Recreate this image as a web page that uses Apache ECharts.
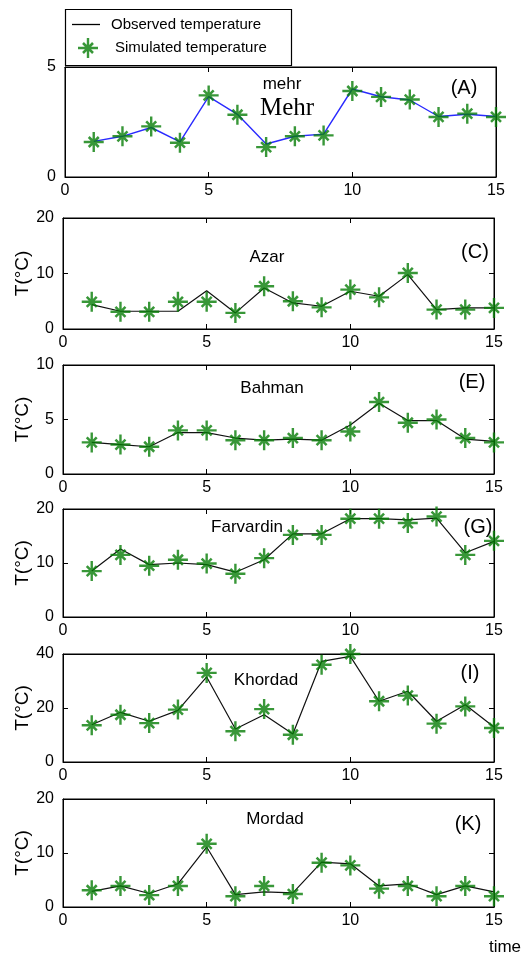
<!DOCTYPE html>
<html><head><meta charset="utf-8">
<script src="https://cdn.jsdelivr.net/npm/echarts@6/dist/echarts.min.js"></script>
<style>html,body{margin:0;padding:0;background:#fff}#c{width:524px;height:965px}</style>
</head><body><div id="c"></div>
<script>
const time = [1,2,3,4,5,6,7,8,9,10,11,12,13,14,15];
const mehrObs = [1.62,1.85,2.25,1.6,3.65,2.85,1.5,1.85,1.95,4.0,3.65,3.5,2.75,2.85,2.75];
const mehrSim = [1.59,1.85,2.30,1.56,3.71,2.83,1.36,1.85,1.89,3.91,3.64,3.52,2.73,2.88,2.73];
const azarObs = [4.4,3.2,3.2,3.2,6.9,2.9,7.4,4.7,4.1,6.8,5.9,9.8,3.5,3.8,3.8];
const azarSim = [4.9,3.1,3.1,4.9,4.9,2.9,7.7,5.0,3.9,7.1,5.7,10.1,3.5,3.5,3.8];
const bahmanObs = [2.9,2.7,2.5,3.8,3.8,3.3,3.1,3.2,3.1,4.5,6.5,4.9,4.9,3.2,3.0];
const bahmanSim = [2.9,2.7,2.5,4.0,4.0,3.1,3.1,3.3,3.1,3.9,6.6,4.7,5.0,3.3,2.9];
const farvardinObs = [8.5,12.6,9.7,10.0,9.7,8.3,10.6,15.4,15.4,18.2,18.2,18.0,18.3,11.9,14.0];
const farvardinSim = [8.5,11.5,9.5,10.6,9.9,8.0,10.9,15.2,15.2,18.2,18.2,17.4,18.6,11.5,14.1];
const khordadObs = [13.8,18.4,15.1,19.1,31.5,12.2,17.5,10.4,37.3,39.1,22.5,26.2,15.1,21.2,13.0];
const khordadSim = [13.6,17.5,14.4,19.4,33.0,11.4,19.6,10.1,36.0,40.0,22.5,24.6,14.2,20.6,12.6];
const mordadObs = [2.9,3.9,2.5,4.3,11.1,2.3,2.8,2.6,8.3,8.0,3.9,4.3,2.3,3.9,2.8];
const mordadSim = [3.1,3.9,2.2,3.9,11.7,2.0,3.9,2.4,8.2,7.7,3.4,3.9,2.0,3.9,2.0];
const xTicks = {min:0, max:15, interval:5};
const yMax = [5,20,10,20,40,20];
const yInterval = [5,10,5,10,20,10];
const panelNames = ['mehr','Azar','Bahman','Farvardin','Khordad','Mordad'];
const panelTags = ['(A)','(C)','(E)','(G)','(I)','(K)'];
const obsSets = [mehrObs, azarObs, bahmanObs, farvardinObs, khordadObs, mordadObs];
const simSets = [mehrSim, azarSim, bahmanSim, farvardinSim, khordadSim, mordadSim];

const grids = [
  {left:65, top:67, width:431, height:110},
  {left:63, top:218, width:431, height:111},
  {left:63, top:365, width:431, height:109},
  {left:63, top:509, width:431, height:108},
  {left:63, top:654, width:431, height:108},
  {left:63, top:799, width:431, height:108}
];
const tickFont = "'Liberation Sans Narrow','Arial Narrow','Liberation Sans',sans-serif";
const textFont = "'Liberation Sans',Arial,sans-serif";
const star = 'path://M8.8,0 L11.2,0 L11.2,20 L8.8,20 Z M0,8.8 L20,8.8 L20,11.2 L0,11.2 Z M4.1,5.9 L5.9,4.1 L15.9,14.1 L14.1,15.9 Z M14.1,4.1 L15.9,5.9 L5.9,15.9 L4.1,14.1 Z M7.6,7.6 L12.4,7.6 L12.4,12.4 L7.6,12.4 Z';
const lineIcon = 'path://M0,0 L28,0 L28,1.3 L0,1.3 Z';
const black = '#000';

const xAxis = [], yAxis = [], series = [];
grids.forEach((g, i) => {
  g.show = true; g.borderColor = black; g.borderWidth = 1; g.containLabel = false;
  const axisCommon = {
    gridIndex: i, type: 'value',
    axisLine: {show: true, onZero: false, lineStyle: {color: black, width: 1}},
    axisTick: {show: true, inside: true, length: 5, lineStyle: {color: black}},
    splitLine: {show: false}
  };
  xAxis.push(Object.assign({}, axisCommon, {position: 'bottom', min: xTicks.min, max: xTicks.max, interval: xTicks.interval,
    axisLabel: {color: black, fontSize: 16, fontFamily: tickFont, margin: 6}}));
  xAxis.push(Object.assign({}, axisCommon, {position: 'top', min: xTicks.min, max: xTicks.max, interval: xTicks.interval,
    axisLabel: {show: false}}));
  yAxis.push(Object.assign({}, axisCommon, {position: 'left', min: 0, max: yMax[i], interval: yInterval[i],
    axisLabel: {color: black, fontSize: 16, fontFamily: tickFont, margin: 9},
    name: i > 0 ? 'T(°C)' : '', nameLocation: 'middle', nameRotate: 90, nameGap: 31, nameMoveOverlap: false,
    nameTextStyle: {color: black, fontSize: 19, fontFamily: textFont}}));
  yAxis.push(Object.assign({}, axisCommon, {position: 'right', min: 0, max: yMax[i], interval: yInterval[i],
    axisLabel: {show: false}}));
  series.push({
    name: 'Observed temperature', type: 'line', xAxisIndex: 2*i, yAxisIndex: 2*i,
    data: time.map((t, k) => [t, obsSets[i][k]]), symbol: 'none', showSymbol: false,
    lineStyle: {color: i === 0 ? '#2a2aff' : '#111', width: i === 0 ? 1.4 : 1.2},
    itemStyle: {color: i === 0 ? '#2a2aff' : '#111'}, z: 2, animation: false
  });
  series.push({
    name: 'Simulated temperature', type: 'scatter', xAxisIndex: 2*i, yAxisIndex: 2*i,
    data: time.map((t, k) => [t, simSets[i][k]]), symbol: star, symbolSize: 20, clip: false,
    itemStyle: {color: '#067d06'}, z: 3, animation: false
  });
});

const textAt = (x, y, text, size, family) => ({type: 'text', x: x, y: y, z: 10,
  style: {text: text, fill: black, font: size + 'px ' + (family || textFont), textAlign: 'center', textVerticalAlign: 'middle'}});
const namePos = [[282,84],[267,257],[272,388],[247,527],[266,680],[275,819]];
const tagPos = [[464,88],[475,252],[472,382],[478,527],[470,673],[468,824]];
const graphic = [
  {type: 'rect', shape: {x: 65.5, y: 9.5, width: 226, height: 56}, style: {fill: '#fff', stroke: black, lineWidth: 1.2}, z: 5}
];
panelNames.forEach((n, i) => {
  graphic.push(textAt(namePos[i][0], namePos[i][1], n, 17));
  graphic.push(textAt(tagPos[i][0], tagPos[i][1], panelTags[i], 20));
});
graphic.push(textAt(287, 108, 'Mehr', 25, "'Liberation Serif','Times New Roman',serif"));
graphic.push(textAt(505, 947, 'time', 17));

const chart = echarts.init(document.getElementById('c'), null, {renderer: 'canvas'});
chart.setOption({
  animation: false,
  backgroundColor: '#fff',
  grid: grids, xAxis: xAxis, yAxis: yAxis, series: series, graphic: graphic,
  legend: [
    {data: [{name: 'Observed temperature', icon: lineIcon, itemStyle: {color: black}}],
     left: 72, top: 17, padding: 0, itemWidth: 28, itemHeight: 14, itemGap: 0, z: 20,
     textStyle: {color: black, fontSize: 15, fontFamily: textFont, padding: [0,0,0,6]}},
    {data: ['Simulated temperature'], left: 78, top: 38, padding: 0, itemWidth: 20, itemHeight: 20, z: 20,
     textStyle: {color: black, fontSize: 15, fontFamily: textFont, padding: [0,0,0,12]}}
  ]
});
</script></body></html>
